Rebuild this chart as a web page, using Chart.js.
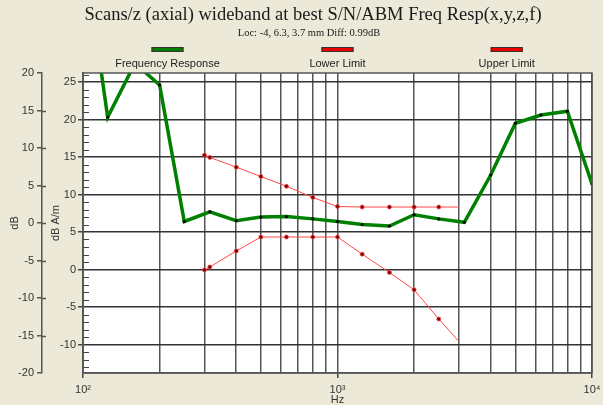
<!DOCTYPE html>
<html><head><meta charset="utf-8">
<script src="https://cdn.jsdelivr.net/npm/chart.js@4/dist/chart.umd.min.js"></script>
<style>html,body{margin:0;padding:0;background:#ECE9D8;}#wrap{width:603px;height:405px;}</style>
</head><body><div id="wrap"><canvas id="c" width="603" height="405"></canvas></div>
<script>
const titleText = "Scans/z (axial) wideband at best S/N/ABM Freq Resp(x,y,z,f)";
const subtitleText = "Loc: -4, 6.3, 3.7 mm Diff: 0.99dB";
const seriesNames = ["Frequency Response", "Lower Limit", "Upper Limit"];
const respFreq = [100,125,160,200,250,315,400,500,630,800,1000,1250,1600,2000,2500,3150,4000,5000,6300,8000,10000];
const respVals = [43.5,20.3,27.5,24.6,6.4,7.7,6.5,7.0,7.05,6.75,6.4,6.0,5.8,7.3,6.75,6.3,12.6,19.5,20.6,21.1,11.4];
const limFreq = [300,315,400,500,630,800,1000,1250,1600,2000,2500,3000];
const lowerVals = [-0.05,0.33,2.47,4.33,4.33,4.33,4.33,2.05,-0.4,-2.7,-6.6,-9.6];
const upperVals = [15.25,14.95,13.65,12.4,11.1,9.6,8.4,8.33,8.33,8.33,8.33,8.33];
const xTickVals = [100,200,300,400,500,600,700,800,900,1000,2000,3000,4000,5000,6000,7000,8000,9000,10000];
const xTickLabels = {100:"10\u00B2",1000:"10\u00B3",10000:"10\u2074"};
const innerMin = -13.8, innerMax = 26.2;
const outerMin = -20, outerMax = 20;

const pts = (xs, ys) => xs.map((x, i) => ({x: x, y: ys[i]}));
const SANS = "'Liberation Sans', Arial, sans-serif";
const SERIF = "'Liberation Serif', 'Times New Roman', serif";

const deco = {
  id: 'deco',
  beforeDraw(chart) {
    const c = chart.ctx, a = chart.chartArea;
    c.save();
    c.fillStyle = '#ECE9D8';
    c.fillRect(0, 0, chart.width, chart.height);
    c.fillStyle = '#ffffff';
    c.fillRect(a.left, a.top, a.right - a.left, a.bottom - a.top);
    c.restore();
  },
  afterDraw(chart) {
    const c = chart.ctx, a = chart.chartArea;
    c.save();
    c.fillStyle = '#1a1a1a';
    c.textAlign = 'center';
    c.textBaseline = 'middle';
    c.font = "18.5px " + SERIF;
    c.fillText(titleText, 313, 15);
    c.font = "10.5px " + SERIF;
    c.fillText(subtitleText, 309, 33);
    const centers = [167.5, 337.5, 506.7];
    chart.data.datasets.forEach((ds, i) => {
      const cx = centers[i];
      c.fillStyle = ds.legendColor;
      c.fillRect(cx - 16, 47, 32, 5);
      c.strokeStyle = '#333';
      c.lineWidth = 1;
      c.strokeRect(cx - 16 + 0.5, 47 + 0.5, 31, 4);
      c.fillStyle = '#222';
      c.font = "11px " + SANS;
      c.fillText(ds.label, cx, 63.5);
    });
    const ys = chart.scales.y;
    c.strokeStyle = '#444';
    c.lineWidth = 1;
    ys.ticks.forEach(t => {
      if (t.value % 5 !== 0) {
        const py = Math.round(ys.getPixelForValue(t.value)) + 0.5;
        c.beginPath(); c.moveTo(a.left, py); c.lineTo(a.left + 6, py); c.stroke();
      }
    });
    const y2 = chart.scales.y2;
    c.lineWidth = 1.5;
    c.strokeStyle = '#555';
    y2.ticks.forEach(t => {
      const v = t.value;
      if (v > outerMin && v < outerMax) {
        const py = Math.round(y2.getPixelForValue(v)) + 0.5;
        c.beginPath(); c.moveTo(y2.right, py); c.lineTo(y2.right + 4, py); c.stroke();
      }
    });
    c.strokeStyle = '#555';
    c.lineWidth = 1.5;
    c.strokeRect(a.left, a.top, a.right - a.left, a.bottom - a.top);
    c.restore();
  }
};

new Chart(document.getElementById('c'), {
  type: 'line',
  data: {
    datasets: [
      { label: seriesNames[0], data: pts(respFreq, respVals), borderColor: '#008000', legendColor: '#008000',
        borderWidth: 3.5, pointRadius: 1.6, pointBackgroundColor: '#000', pointBorderWidth: 0,
        yAxisID: 'y', clip: 0, order: 0 },
      { label: seriesNames[1], data: pts(limFreq, lowerVals), borderColor: '#ff4a4a', legendColor: '#ee0000',
        borderWidth: 1, pointRadius: ctx => ctx.dataIndex === limFreq.length - 1 ? 0 : 2,
        pointBackgroundColor: '#700', pointBorderColor: '#ff4040', pointBorderWidth: 0.8,
        yAxisID: 'y', clip: 0, order: 1 },
      { label: seriesNames[2], data: pts(limFreq, upperVals), borderColor: '#ff4a4a', legendColor: '#ee0000',
        borderWidth: 1, pointRadius: ctx => ctx.dataIndex === limFreq.length - 1 ? 0 : 2,
        pointBackgroundColor: '#700', pointBorderColor: '#ff4040', pointBorderWidth: 0.8,
        yAxisID: 'y', clip: 0, order: 1 }
    ]
  },
  options: {
    responsive: false,
    animation: false,
    devicePixelRatio: 1,
    layout: { padding: { top: 73, right: 11, bottom: 0, left: 0 } },
    plugins: { legend: { display: false }, title: { display: false }, tooltip: { enabled: false } },
    elements: { line: { tension: 0 } },
    scales: {
      x: {
        type: 'logarithmic', min: 100, max: 10000,
        afterBuildTicks: s => { s.ticks = xTickVals.map(v => ({value: v})); },
        afterFit: s => { s.height = 32; s.paddingRight = 6; s.paddingLeft = 0; },
        ticks: { autoSkip: false, maxRotation: 0, padding: 5, color: '#333',
                 font: { family: SANS, size: 11 },
                 callback: v => xTickLabels[v] || '' },
        grid: { color: '#555', lineWidth: 1.5, tickLength: 5,
                tickColor: ctx => (ctx.tick && xTickLabels[ctx.tick.value]) ? '#444' : 'rgba(0,0,0,0)' },
        border: { color: '#555', width: 1.5 },
        title: { display: true, text: 'Hz', color: '#333', font: { family: SANS, size: 11, lineHeight: 1 },
                 padding: { top: 0, bottom: 0 } }
      },
      y: {
        position: 'left', weight: 0, min: innerMin, max: innerMax,
        afterBuildTicks: s => { const t = []; for (let v = -13; v <= 26; v++) t.push({value: v}); s.ticks = t; },
        afterFit: s => { s.width = 41; },
        ticks: { autoSkip: false, padding: 2, color: '#333', font: { family: SANS, size: 11 },
                 callback: v => (v % 5 === 0 ? String(v) : '') },
        grid: { lineWidth: 1.5, tickLength: 5,
                color: ctx => (ctx.tick && ctx.tick.value % 5 === 0) ? '#333' : 'rgba(0,0,0,0)',
                tickColor: ctx => (ctx.tick && ctx.tick.value % 5 === 0) ? '#444' : 'rgba(0,0,0,0)' },
        border: { color: '#555', width: 1.5 },
        title: { display: true, text: 'dB A/m', color: '#333', font: { family: SANS, size: 11 },
                 padding: { top: 7, bottom: 0 } }
      },
      y2: {
        position: 'left', weight: 1, min: outerMin, max: outerMax,
        afterFit: s => { s.width = 42; },
        ticks: { stepSize: 5, autoSkip: false, padding: 3, color: '#333', font: { family: SANS, size: 11 } },
        grid: { drawOnChartArea: false, tickLength: 5, color: '#555', lineWidth: 1.5 },
        border: { color: '#555', width: 1.5 },
        title: { display: true, text: 'dB', color: '#333', font: { family: SANS, size: 11 },
                 padding: { top: 8, bottom: 0 } }
      }
    }
  },
  plugins: [deco]
});
</script></body></html>
